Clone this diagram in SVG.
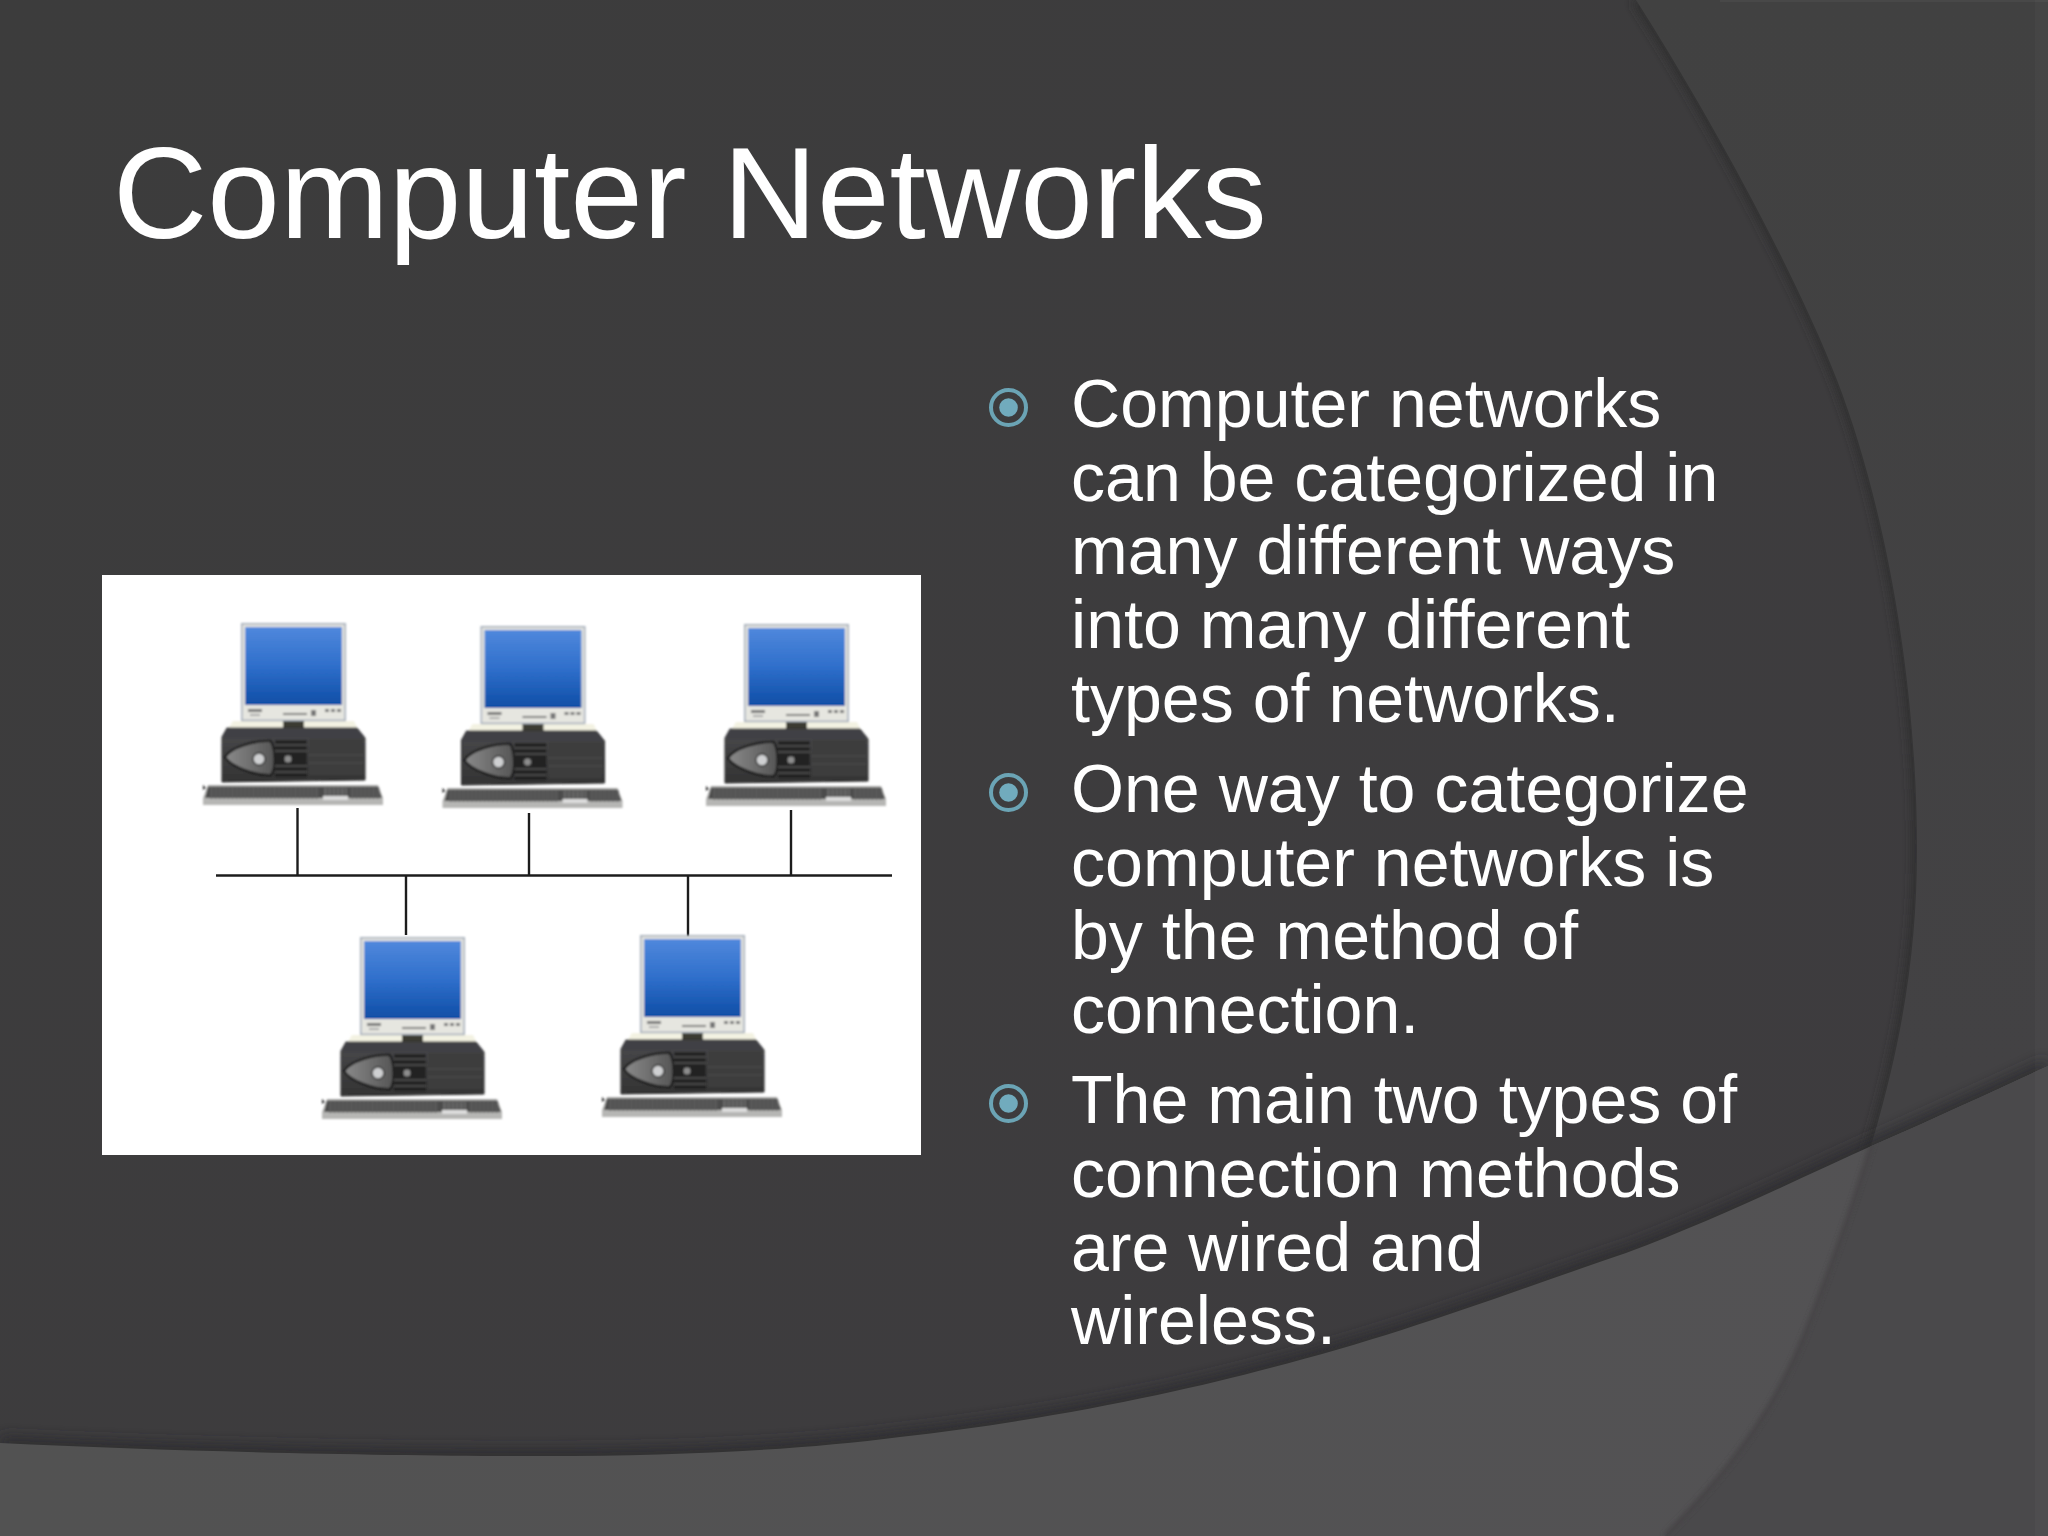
<svg xmlns="http://www.w3.org/2000/svg" xmlns:xlink="http://www.w3.org/1999/xlink" width="2048" height="1536" viewBox="0 0 2048 1536">
<style>
.title{font-family:"Liberation Sans",Arial,sans-serif;font-size:130.6px;fill:#fff}
.body{font-family:"Liberation Sans",Arial,sans-serif;font-size:68.1px;fill:#fff}
.ring{fill:none;stroke:#6ba4b5;stroke-width:4}
.dot{fill:#71abbd}
.wire{stroke:#1c1c1c;stroke-width:2.4;fill:none}
.key{fill:none;stroke:#5a5a5a;stroke-width:11;stroke-dasharray:3 1.2}
</style>
<defs>
<linearGradient id="bg" x1="0" y1="0" x2="1" y2="1"><stop offset="0" stop-color="#3c3c3c"/><stop offset="1" stop-color="#3e3c3f"/></linearGradient>
<linearGradient id="panel" x1="0" y1="0" x2="0" y2="1"><stop offset="0" stop-color="#414141"/><stop offset="0.7" stop-color="#434244"/></linearGradient>
<linearGradient id="band" x1="0" y1="0" x2="1" y2="0"><stop offset="0" stop-color="#525252"/><stop offset="1" stop-color="#535254"/></linearGradient>
<linearGradient id="screen" x1="0" y1="0" x2="0" y2="1"><stop offset="0" stop-color="#5088dc"/><stop offset="0.5" stop-color="#2f6fcb"/><stop offset="1" stop-color="#0f4ea6"/></linearGradient>
<linearGradient id="caseG" x1="0" y1="0" x2="0" y2="1"><stop offset="0" stop-color="#4a4a4c"/><stop offset="1" stop-color="#333"/></linearGradient>
<linearGradient id="ovalG" x1="0" y1="0" x2="1" y2="0"><stop offset="0" stop-color="#8a8a8a"/><stop offset="1" stop-color="#555"/></linearGradient>
<filter id="b5" x="-20%" y="-20%" width="140%" height="140%"><feGaussianBlur stdDeviation="5"/></filter>
<filter id="b8" x="-10%" y="-20%" width="120%" height="140%"><feGaussianBlur stdDeviation="7"/></filter>
<filter id="b2" x="-20%" y="-20%" width="140%" height="140%"><feGaussianBlur stdDeviation="2"/></filter>
<filter id="soft" x="-10%" y="-10%" width="120%" height="120%"><feGaussianBlur stdDeviation="0.8"/></filter>
<clipPath id="bandClip"><path d="M0,1443 C180,1452 400,1456 545,1456 C680,1456 800,1450 900,1437 C1050,1420 1180,1392 1270,1368 C1400,1335 1500,1296 1626,1253 C1720,1218 1800,1178 1876,1144 C1940,1116 2000,1088 2048,1066 L2048,1536 L0,1536 Z"/></clipPath>
<g id="pc" filter="url(#soft)">
<path d="M-8,98 H113 L118,108 H-14 Z" fill="#f3f2e2"/>
<rect x="42" y="97" width="21" height="11" fill="#3a3a30"/>
<rect x="0.8" y="0.8" width="103.4" height="96.6" fill="#e6e6e0" stroke="#a7b0bc" stroke-width="1.6"/>
<rect x="4" y="4" width="97" height="78" fill="url(#screen)"/>
<g fill="#777"><rect x="7" y="86" width="14" height="3"/><rect x="9" y="91" width="10" height="2" fill="#aaa"/><rect x="42" y="90" width="24" height="2"/><rect x="70" y="87" width="5" height="6"/><rect x="84" y="86" width="4" height="3"/><rect x="90" y="86" width="4" height="3"/><rect x="96" y="86" width="4" height="3"/></g>
<path d="M-19,114 L-14,105 H116 L124,115 V157 L-19,159 Z" fill="url(#caseG)" stroke="#2a2a2a" stroke-width="1"/>
<path d="M-14,105 H116 L124,115 H-19 Z" fill="#3f3f44"/>
<path d="M-16,134 C-10,124 15,117 30,118 C35,127 35,147 30,152 C15,153 -10,144 -16,134 Z" fill="url(#ovalG)" stroke="#1a1a1a" stroke-width="2.4"/>
<circle cx="18" cy="136" r="6" fill="#cfd0d2" stroke="#333" stroke-width="1.4"/>
<rect x="34" y="117" width="32" height="37" fill="#242424"/>
<path d="M34,122 H66 M34,128 H66 M34,143 H66 M34,149 H66" stroke="#6a6a6a" stroke-width="1.1"/>
<circle cx="47" cy="136" r="4" fill="#8d8d8d" stroke="#333"/>
<path d="M68,116 H122 V152 H68 Z" fill="#3c3c3c"/>
<path d="M68,132 H122 M68,140 H122" stroke="#515151" stroke-width="1"/>
<path d="M-33,162 H137 L142,175 V182 H-38 V175 Z" fill="#b6b6b4"/>
<path d="M-33,163.5 H137 L141,175 H-36 Z" fill="#4c4c4c"/>
<path class="key" d="M-31,170 H77"/>
<path class="key" d="M83,170 H106" style="stroke:#666"/>
<path class="key" d="M110,170 H139"/>
<rect x="82" y="173" width="25" height="4" fill="#ddd"/>
<path d="M-38,162 l3,3 l-3,2 Z" fill="#222"/>
</g>
</defs>
<g id="background">
<rect width="2048" height="1536" fill="url(#bg)"/>
<path d="M1636,0 C1700,100 1790,260 1837,380 C1885,505 1917,680 1917,849 C1917,1000 1885,1130 1804,1336" fill="none" stroke="#2d2d2e" stroke-width="9" filter="url(#b5)"/>
<path d="M1636,0 C1700,100 1790,260 1837,380 C1885,505 1917,680 1917,849 C1917,1000 1885,1130 1804,1336 C1770,1420 1720,1480 1665,1536 L2048,1536 L2048,0 Z" fill="url(#panel)"/>
<path d="M0,1443 C180,1452 400,1456 545,1456 C680,1456 800,1450 900,1437 C1050,1420 1180,1392 1270,1368 C1400,1335 1500,1296 1626,1253 C1720,1218 1800,1178 1876,1144 C1940,1116 2000,1088 2048,1066" fill="none" stroke="#2c2a2e" stroke-width="12" filter="url(#b8)"/>
<path d="M0,1443 C180,1452 400,1456 545,1456 C680,1456 800,1450 900,1437 C1050,1420 1180,1392 1270,1368 C1400,1335 1500,1296 1626,1253 C1720,1218 1800,1178 1876,1144 C1940,1116 2000,1088 2048,1066 L2048,1536 L0,1536 Z" fill="url(#band)"/>
<g clip-path="url(#bandClip)">
<path d="M1636,0 C1700,100 1790,260 1837,380 C1885,505 1917,680 1917,849 C1917,1000 1885,1130 1804,1336 C1770,1420 1720,1480 1665,1536 L2048,1536 L2048,0 Z" fill="#4a494b"/>
<path d="M1917,849 C1917,1000 1885,1130 1804,1336 C1770,1420 1720,1480 1665,1536" fill="none" stroke="#464547" stroke-width="5" filter="url(#b2)"/>
</g>
<rect x="2035" y="0" width="13" height="1536" fill="#fff" opacity="0.025"/>
<rect x="1720" y="0" width="328" height="2" fill="#fff" opacity="0.04"/>
</g>
<g id="title"><text class="title" x="113" y="238">Computer Networks</text></g>
<g id="network-image"><rect x="102" y="575" width="819" height="580" fill="#fff"/></g>
<g id="connectors">
<path class="wire" d="M216,875.5 H892"/>
<path class="wire" d="M297.5,808 V875.5"/>
<path class="wire" d="M529,813 V875.5"/>
<path class="wire" d="M791,810 V875.5"/>
<path class="wire" d="M406,875.5 V935"/>
<path class="wire" d="M688,875.5 V937"/>
</g>
<g id="computer-1" transform="translate(241,623)"><use href="#pc"/></g>
<g id="computer-2" transform="translate(480.5,626)"><use href="#pc"/></g>
<g id="computer-3" transform="translate(744,624)"><use href="#pc"/></g>
<g id="computer-4" transform="translate(360,937)"><use href="#pc"/></g>
<g id="computer-5" transform="translate(640,935)"><use href="#pc"/></g>
<g id="bullet-1"><circle class="ring" cx="1008.5" cy="407.5" r="17.5"/><circle class="dot" cx="1008.5" cy="407.5" r="9.3"/>
<text class="body" x="1071"><tspan x="1071" y="427">Computer networks</tspan><tspan x="1071" y="500.7">can be categorized in</tspan><tspan x="1071" y="574.4">many different ways</tspan><tspan x="1071" y="648">into many different</tspan><tspan x="1071" y="721.8">types of networks.</tspan></text></g>
<g id="bullet-2"><circle class="ring" cx="1008.5" cy="792.5" r="17.5"/><circle class="dot" cx="1008.5" cy="792.5" r="9.3"/>
<text class="body" x="1071"><tspan x="1071" y="812">One way to categorize</tspan><tspan x="1071" y="885.7">computer networks is</tspan><tspan x="1071" y="959.4">by the method of</tspan><tspan x="1071" y="1033">connection.</tspan></text></g>
<g id="bullet-3"><circle class="ring" cx="1008.5" cy="1103.5" r="17.5"/><circle class="dot" cx="1008.5" cy="1103.5" r="9.3"/>
<text class="body" x="1071"><tspan x="1071" y="1123">The main two types of</tspan><tspan x="1071" y="1197">connection methods</tspan><tspan x="1071" y="1271">are wired and</tspan><tspan x="1071" y="1344">wireless.</tspan></text></g>
</svg>
